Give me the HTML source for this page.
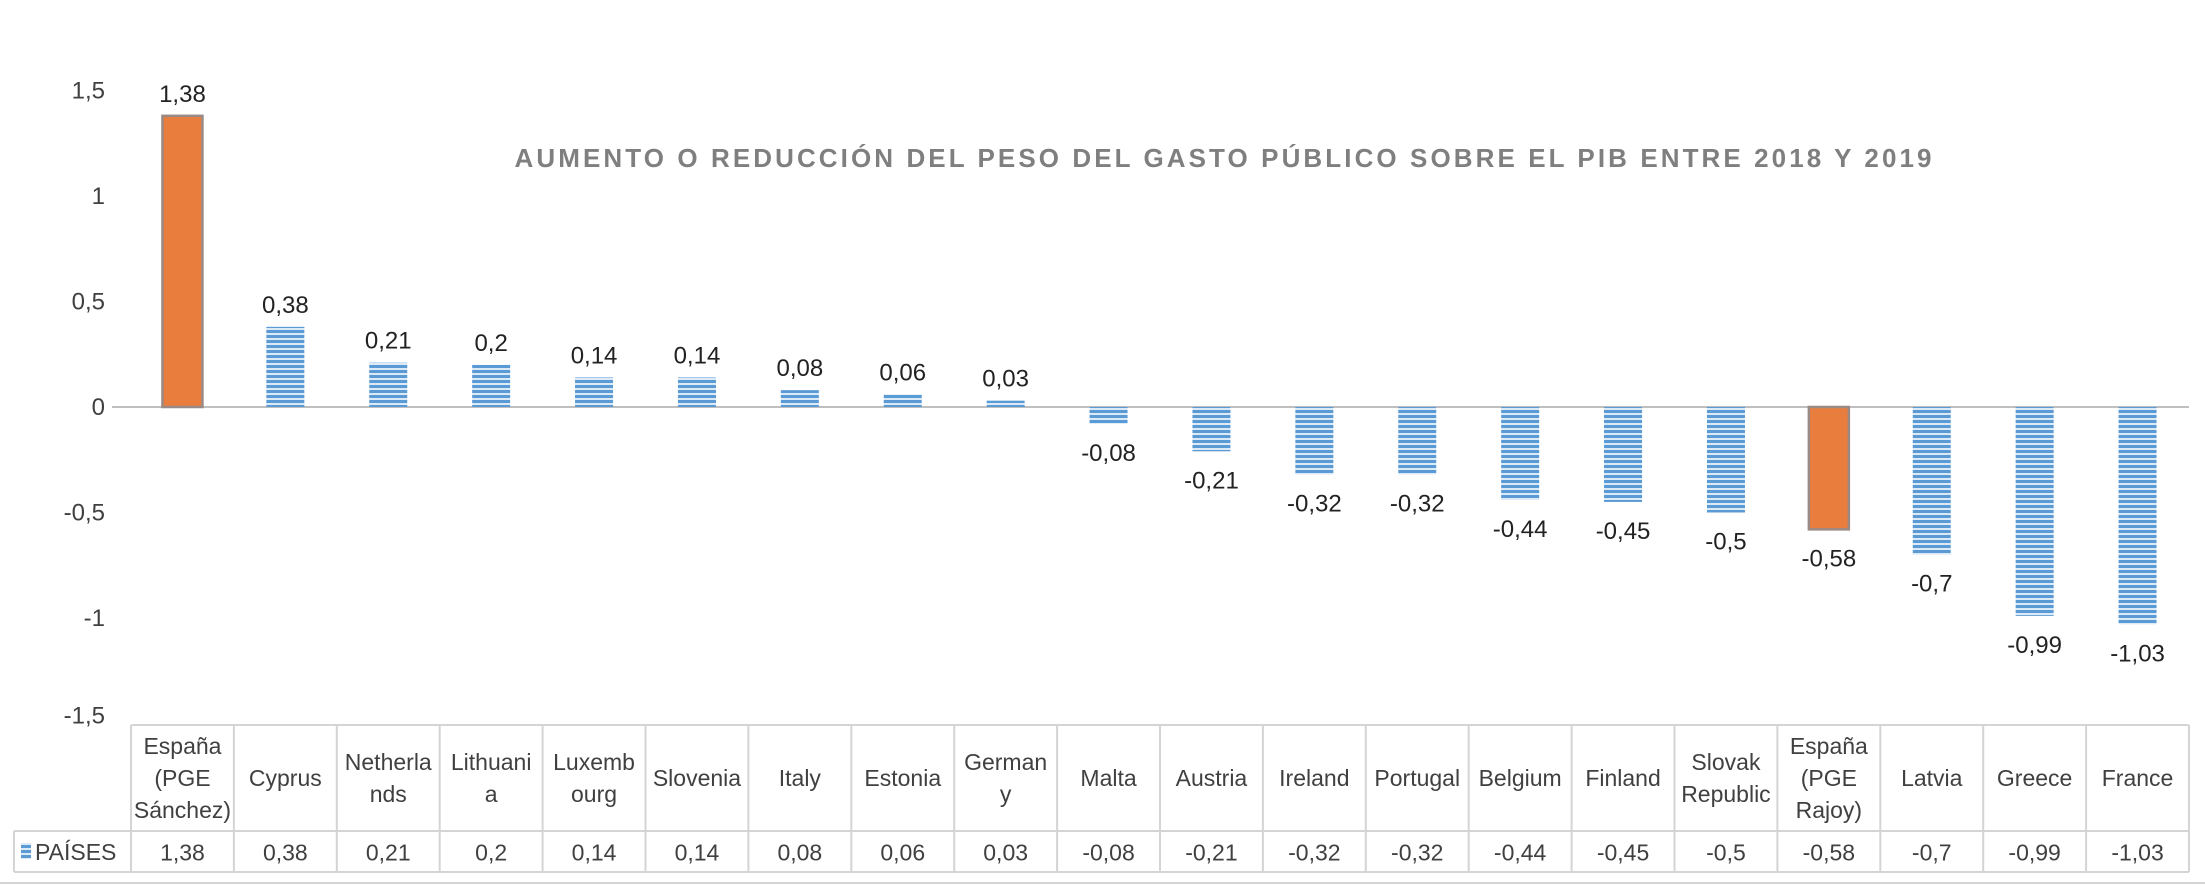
<!DOCTYPE html>
<html><head><meta charset="utf-8"><style>
html,body{margin:0;padding:0;background:#fff;}
svg{display:block;font-family:"Liberation Sans","DejaVu Sans",sans-serif;}
</style></head><body>
<svg id="chart" width="2205" height="885" viewBox="0 0 2205 885" xmlns="http://www.w3.org/2000/svg">
<defs>
<pattern id="stripes" width="8" height="5" patternUnits="userSpaceOnUse">
<rect width="8" height="5" fill="#dce9f6"/>
<rect width="8" height="3" fill="#5b9bd5"/>
</pattern>
</defs>
<text x="1223" y="167" text-anchor="middle" font-size="26" font-weight="bold" fill="#7f7f7f" textLength="1417" lengthAdjust="spacing">AUMENTO O REDUCCIÓN DEL PESO DEL GASTO PÚBLICO SOBRE EL PIB ENTRE 2018 Y 2019</text>
<g id="yaxis"></g>
<g id="bars"></g>
<g id="table"></g>
</svg>
<script>
const categories = [["España","(PGE","Sánchez)"],["Cyprus"],["Netherla","nds"],["Lithuani","a"],["Luxemb","ourg"],["Slovenia"],["Italy"],["Estonia"],["German","y"],["Malta"],["Austria"],["Ireland"],["Portugal"],["Belgium"],["Finland"],["Slovak","Republic"],["España","(PGE","Rajoy)"],["Latvia"],["Greece"],["France"]];
const values = [1.38,0.38,0.21,0.2,0.14,0.14,0.08,0.06,0.03,-0.08,-0.21,-0.32,-0.32,-0.44,-0.45,-0.5,-0.58,-0.7,-0.99,-1.03];
const highlighted = [true,false,false,false,false,false,false,false,false,false,false,false,false,false,false,false,true,false,false,false];
const yTicks = [1.5,1,0.5,0,-0.5,-1,-1.5];
const seriesName = "PAÍSES";

const NS="http://www.w3.org/2000/svg";
const x0=131, x1=2189, zeroY=407, unit=211;
const colW=(x1-x0)/categories.length;
const y=v=>zeroY-v*unit;
const fmt=v=>String(v).replace('.',',');
function mk(tag,attrs,parent,txt){const e=document.createElementNS(NS,tag);for(const k in attrs)e.setAttribute(k,attrs[k]);if(txt!==undefined)e.textContent=txt;parent.appendChild(e);return e;}

const ya=document.getElementById('yaxis');
yTicks.forEach(t=>{
  const e=mk('text',{x:105,y:y(t)+(t===-1.5?0:8),'text-anchor':'end','font-size':24,fill:'#404040'},ya,fmt(t));
  
  
});
const zl=mk('line',{x1:112,x2:x1,y1:zeroY,y2:zeroY,stroke:'#bfbfbf','stroke-width':2},ya);



const bg=document.getElementById('bars');
values.forEach((v,i)=>{
  const cx=x0+colW*(i+0.5);
  const bw=highlighted[i]?40:38;
  const top=Math.min(y(v),zeroY), h=Math.abs(y(v)-zeroY);
  const r=mk('rect',{x:cx-bw/2,y:top,width:bw,height:h,fill:highlighted[i]?'#e87d3e':'url(#stripes)',stroke:highlighted[i]?'#9a8a86':'none','stroke-width':highlighted[i]?2.5:0},bg);
  
  
  const ly=v>=0?y(v)-14:y(v)+37;
  const t=mk('text',{x:cx,y:ly,'text-anchor':'middle','font-size':24,fill:'#222'},bg,fmt(v));
  
  
});

const tg=document.getElementById('table');
const tTop=725,tMid=831,tBot=872,legL=14;
const lc='#d4d4d4';
[[x0,tTop,x1,tTop],[legL,tMid,x1,tMid],[legL,tBot,x1,tBot],[legL,tMid,legL,tBot],[x1,tTop,x1,tBot],[0,883,2205,883]].forEach(a=>{
  const l=mk('line',{x1:a[0],y1:a[1],x2:a[2],y2:a[3],stroke:lc,'stroke-width':2},tg);
  
  
});
for(let i=0;i<=categories.length;i++){
  const xx=x0+colW*i;
  const l=mk('line',{x1:xx,y1:tTop,x2:xx,y2:tBot,stroke:lc,'stroke-width':2},tg);
  
  
}
categories.forEach((c,i)=>{
  const cx=x0+colW*(i+0.5);
  const midY=(tTop+tMid)/2+8;
  const start=midY-(c.length-1)*16;
  c.forEach((line,j)=>{
    const t=mk('text',{x:cx,y:start+j*32,'text-anchor':'middle','font-size':23,fill:'#404040'},tg,line);
    
    
  });
  const v=mk('text',{x:cx,y:(tMid+tBot)/2+9,'text-anchor':'middle','font-size':23,fill:'#404040'},tg,fmt(values[i]));
  
  
});
const key=mk('rect',{x:21,y:843,width:10,height:16,fill:'url(#stripes)'},tg);


const ln=mk('text',{x:35,y:860,'font-size':23,fill:'#404040'},tg,seriesName);


</script>
</body></html>
